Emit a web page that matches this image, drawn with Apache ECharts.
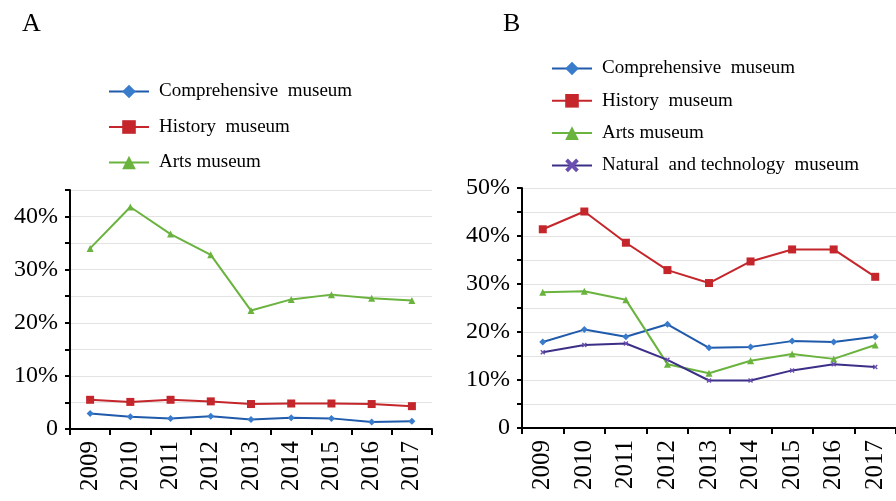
<!DOCTYPE html>
<html>
<head>
<meta charset="utf-8">
<script src="https://cdn.jsdelivr.net/npm/echarts@6/dist/echarts.min.js"></script>
<style>
  html, body { margin: 0; padding: 0; background: #fff; }
  #chart { width: 896px; height: 501px; }
</style>
</head>
<body>
<div id="chart"></div>
<script>
// Data
const years = ['2009', '2010', '2011', '2012', '2013', '2014', '2015', '2016', '2017'];

// Panel A
const aComprehensive = [2.9, 2.3, 2.0, 2.4, 1.8, 2.1, 2.0, 1.3, 1.45];
const aHistory = [5.5, 5.1, 5.5, 5.2, 4.7, 4.8, 4.8, 4.7, 4.3];
const aArts = [34.0, 41.8, 36.7, 32.8, 22.3, 24.4, 25.3, 24.6, 24.2];

// Panel B
const bComprehensive = [17.9, 20.5, 19.0, 21.6, 16.7, 16.9, 18.1, 17.9, 19.0];
const bHistory = [41.4, 45.1, 38.6, 32.9, 30.2, 34.7, 37.2, 37.2, 31.5];
const bArts = [28.3, 28.5, 26.7, 13.3, 11.4, 14.0, 15.4, 14.4, 17.3];
const bNatural = [15.8, 17.3, 17.6, 14.2, 9.9, 9.9, 12.0, 13.3, 12.7];

const namesA = ['Comprehensive  museum', 'History  museum', 'Arts museum'];
const namesB = ['Comprehensive  museum', 'History  museum', 'Arts museum', 'Natural  and technology  museum'];

const serif = '"Liberation Serif", "DejaVu Serif", serif';
const crossPath = 'path://M2,0 L5,3 L8,0 L10,2 L7,5 L10,8 L8,10 L5,7 L2,10 L0,8 L3,5 L0,2 Z';

const styles = {
  comp: { line: '#1f5aab', fill: '#3a7ccc', symbol: 'diamond', size: 7 },
  hist: { line: '#c4262b', fill: '#c4262b', symbol: 'rect', size: 8 },
  arts: { line: '#6ab33e', fill: '#6ab33e', symbol: 'triangle', size: 7 },
  nat: { line: '#3b2f87', fill: '#6a4fb0', symbol: crossPath, size: 5 }
};

function makeSeries(name, data, st, idx) {
  return {
    name: name,
    type: 'line',
    data: data,
    xAxisIndex: idx,
    yAxisIndex: idx,
    symbol: st.symbol,
    symbolSize: st.size,
    showAllSymbol: true,
    lineStyle: { color: st.line, width: 2 },
    itemStyle: { color: st.fill, borderColor: st.fill, borderWidth: 0 },
    emphasis: { disabled: true },
    animation: false
  };
}

function xAxisCfg(idx) {
  return {
    type: 'category',
    gridIndex: idx,
    data: years,
    boundaryGap: true,
    axisLine: { lineStyle: { color: '#000', width: 2 } },
    axisTick: { show: true, length: 6, inside: false, lineStyle: { color: '#000', width: 2 } },
    axisLabel: { rotate: 90, margin: 12, color: '#000', fontFamily: serif, fontSize: 25, interval: 0 }
  };
}

function yAxisCfg(idx, max) {
  return {
    type: 'value',
    gridIndex: idx,
    min: 0,
    max: max,
    interval: 5,
    axisLine: { show: true, lineStyle: { color: '#000', width: 2 } },
    axisTick: { show: true, length: 5, lineStyle: { color: '#000', width: 2 } },
    splitLine: { show: true, lineStyle: { color: '#e3e3e3', width: 1 } },
    axisLabel: {
      margin: 12,
      color: '#000',
      fontFamily: serif,
      fontSize: 24,
      formatter: function (v) {
        if (v % 10 !== 0) return '';
        return v === 0 ? '0' : v + '%';
      }
    }
  };
}

const legendText = { color: '#000', fontFamily: serif, fontSize: 19, padding: [0, 0, 0, 5] };

const chart = echarts.init(document.getElementById('chart'));
chart.setOption({
  backgroundColor: '#fff',
  animation: false,
  title: [
    { text: 'A', left: 17, top: 6, textStyle: { fontFamily: serif, fontSize: 26, fontWeight: 'normal', color: '#000' } },
    { text: 'B', left: 498, top: 6, textStyle: { fontFamily: serif, fontSize: 26, fontWeight: 'normal', color: '#000' } }
  ],
  legend: [
    {
      orient: 'vertical',
      left: 108,
      top: 82,
      padding: 0,
      itemWidth: 40,
      itemHeight: 17,
      itemGap: 16.5,
      data: namesA,
      textStyle: legendText,
      selectedMode: false
    },
    {
      orient: 'vertical',
      left: 551,
      top: 59,
      padding: 0,
      itemWidth: 40,
      itemHeight: 17,
      itemGap: 13.3,
      data: namesB.map(function (n) { return n + ' '; }),
      textStyle: legendText,
      selectedMode: false
    }
  ],
  grid: [
    { left: 70, right: 464, top: 190, bottom: 72 },
    { left: 522, right: 0, top: 188, bottom: 73 }
  ],
  xAxis: [xAxisCfg(0), xAxisCfg(1)],
  yAxis: [yAxisCfg(0, 45), yAxisCfg(1, 50)],
  series: [
    makeSeries(namesA[0], aComprehensive, styles.comp, 0),
    makeSeries(namesA[1], aHistory, styles.hist, 0),
    makeSeries(namesA[2], aArts, styles.arts, 0),
    makeSeries(namesB[0] + ' ', bComprehensive, styles.comp, 1),
    makeSeries(namesB[1] + ' ', bHistory, styles.hist, 1),
    makeSeries(namesB[2] + ' ', bArts, styles.arts, 1),
    makeSeries(namesB[3] + ' ', bNatural, styles.nat, 1)
  ]
});

window.addEventListener('resize', function () {
  chart.resize();
});
</script>
</body>
</html>
